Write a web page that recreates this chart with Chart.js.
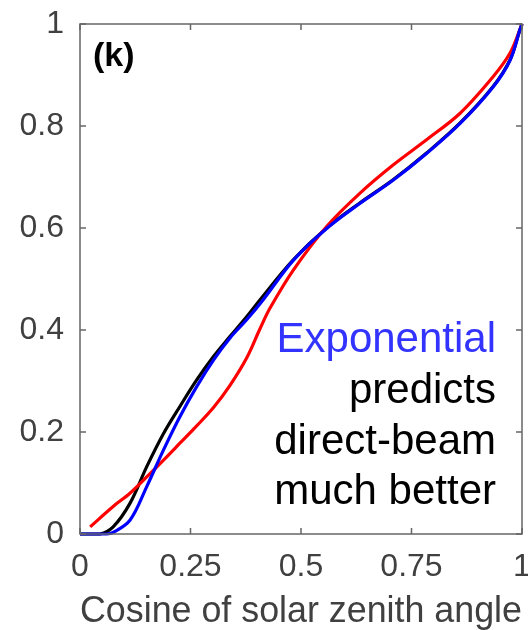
<!DOCTYPE html>
<html><head><meta charset="utf-8">
<script src="https://cdn.jsdelivr.net/npm/chart.js@4.4.1/dist/chart.umd.min.js"></script>
<style>html,body{margin:0;padding:0;background:#fff}#wrap{width:528px;height:630px}</style>
</head><body><div id="wrap"><canvas id="c" width="528" height="630"></canvas></div>
<script>
// Data
const xTicks = [0, 0.25, 0.5, 0.75, 1];
const xTickLabels = ['0', '0.25', '0.5', '0.75', '1'];
const yTicks = [0, 0.2, 0.4, 0.6, 0.8, 1];
const yTickLabels = ['0', '0.2', '0.4', '0.6', '0.8', '1'];

const blackX = [0, 0.045, 0.075, 0.113, 0.151, 0.189, 0.226, 0.264, 0.302, 0.339, 0.377, 0.407, 0.483, 0.558, 0.633, 0.709, 0.784, 0.86, 0.935, 0.973, 0.995, 1];
const blackY = [0, 0, 0.014, 0.06, 0.132, 0.197, 0.25, 0.302, 0.348, 0.387, 0.426, 0.459, 0.538, 0.6, 0.649, 0.695, 0.747, 0.806, 0.878, 0.93, 0.988, 1];

const blueX = [0, 0.06, 0.075, 0.113, 0.151, 0.189, 0.226, 0.264, 0.302, 0.339, 0.377, 0.415, 0.483, 0.558, 0.633, 0.709, 0.784, 0.86, 0.935, 0.973, 0.995, 1];
const blueY = [0, 0, 0.003, 0.027, 0.093, 0.165, 0.23, 0.289, 0.341, 0.384, 0.42, 0.46, 0.537, 0.599, 0.648, 0.694, 0.746, 0.805, 0.877, 0.929, 0.988, 1];

const redX = [0.023, 0.075, 0.113, 0.151, 0.189, 0.226, 0.264, 0.302, 0.339, 0.377, 0.407, 0.43, 0.483, 0.558, 0.633, 0.709, 0.784, 0.86, 0.935, 0.973, 0.995, 1];
const redY = [0.014, 0.054, 0.08, 0.112, 0.145, 0.178, 0.212, 0.248, 0.291, 0.345, 0.402, 0.443, 0.518, 0.603, 0.668, 0.724, 0.773, 0.825, 0.897, 0.943, 0.988, 1];

const xTitle = 'Cosine of solar zenith angle';
const panelLabel = '(k)';
const noteBlue = 'Exponential';
const noteLines = ['predicts', 'direct-beam', 'much better'];

const pts = (xs, ys) => xs.map((x, i) => ({x: x, y: ys[i]}));
const FONT = "'Liberation Sans', Arial, Helvetica, sans-serif";
const AX = '#666666';
const TXT = '#404040';

const framePlugin = {
  id: 'frame',
  afterDatasetsDraw(chart) {
    const {ctx, chartArea: a, scales} = chart;
    const xs = scales.x, ys = scales.y;
    ctx.save();
    ctx.strokeStyle = AX;
    ctx.lineWidth = 1.5;
    ctx.strokeRect(a.left, a.top, a.right - a.left, a.bottom - a.top);
    const tl = 6;
    ctx.beginPath();
    xTicks.forEach(v => {
      const px = xs.getPixelForValue(v);
      ctx.moveTo(px, a.bottom); ctx.lineTo(px, a.bottom - tl);
      ctx.moveTo(px, a.top); ctx.lineTo(px, a.top + tl);
    });
    yTicks.forEach(v => {
      const py = ys.getPixelForValue(v);
      ctx.moveTo(a.left, py); ctx.lineTo(a.left + tl, py);
      ctx.moveTo(a.right, py); ctx.lineTo(a.right - tl, py);
    });
    ctx.stroke();
    ctx.restore();
  },
  afterDraw(chart) {
    const {ctx, chartArea: a} = chart;
    ctx.save();
    ctx.fillStyle = '#000';
    ctx.font = 'bold 34px ' + FONT;
    ctx.textAlign = 'left';
    ctx.textBaseline = 'alphabetic';
    ctx.fillText(panelLabel, a.left + 13, a.top + 42);
    ctx.font = '42px ' + FONT;
    ctx.textAlign = 'right';
    const rx = a.right - 26;
    ctx.fillStyle = '#3333ff';
    ctx.fillText(noteBlue, rx, a.top + 328);
    ctx.fillStyle = '#000';
    noteLines.forEach((t, i) => ctx.fillText(t, rx, a.top + 379 + i * 50.5));
    ctx.restore();
  }
};

const noPad = s => { s.paddingTop = 0; s.paddingBottom = 0; s.paddingLeft = 0; s.paddingRight = 0; };

new Chart(document.getElementById('c'), {
  type: 'scatter',
  data: {
    datasets: [
      {label: 'Exponential', data: pts(blueX, blueY), borderColor: '#0000ff'},
      {label: 'Other', data: pts(redX, redY), borderColor: '#ff0000'},
      {label: 'Reference', data: pts(blackX, blackY), borderColor: '#000000'}
    ].map(d => Object.assign(d, {showLine: true, pointRadius: 0, borderWidth: 3.2, tension: 0.35, clip: 4, fill: false}))
  },
  options: {
    responsive: false,
    animation: false,
    devicePixelRatio: 1,
    layout: {padding: {left: 0, right: 6, top: 24, bottom: 0}},
    plugins: {legend: {display: false}, tooltip: {enabled: false}},
    scales: {
      x: {
        type: 'linear', min: 0, max: 1,
        grid: {display: false, drawTicks: false},
        border: {display: false},
        afterBuildTicks: s => { s.ticks = xTicks.map(v => ({value: v})); },
        afterFit: s => { s.height = 96; noPad(s); },
        ticks: {
          padding: 14, color: TXT, font: {family: FONT, size: 32},
          callback: (v) => { const i = xTicks.indexOf(v); return i >= 0 ? xTickLabels[i] : ''; },
          maxRotation: 0, autoSkip: false
        },
        title: {display: true, text: xTitle, color: TXT, font: {family: FONT, size: 36, lineHeight: 1}, padding: {top: 0, bottom: 0}}
      },
      y: {
        type: 'linear', min: 0, max: 1,
        grid: {display: false, drawTicks: false},
        border: {display: false},
        afterBuildTicks: s => { s.ticks = yTicks.map(v => ({value: v})); },
        afterFit: s => { s.width = 80; noPad(s); },
        ticks: {
          padding: 16, color: TXT, font: {family: FONT, size: 32},
          callback: (v) => { const i = yTicks.indexOf(v); return i >= 0 ? yTickLabels[i] : ''; },
          autoSkip: false
        }
      }
    }
  },
  plugins: [framePlugin]
});
</script></body></html>
